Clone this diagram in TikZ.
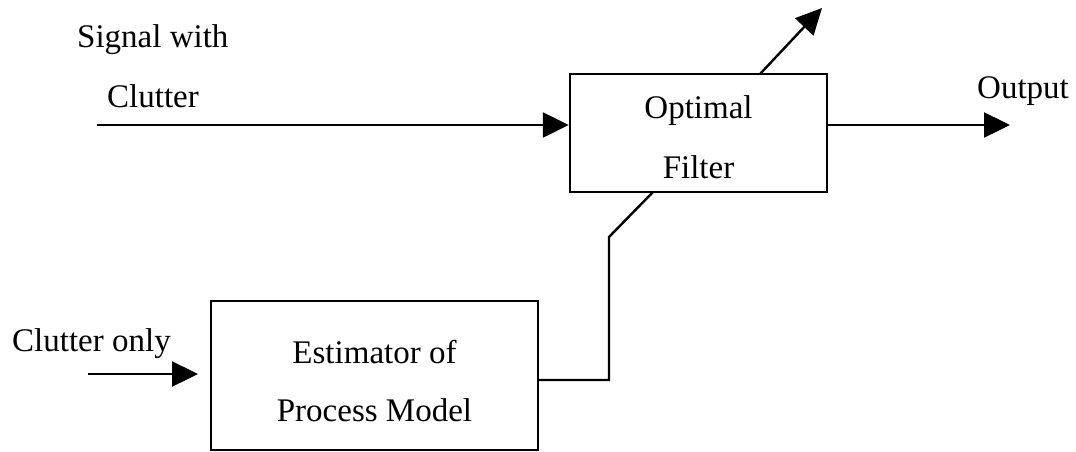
\documentclass[tikz,border=0pt]{standalone}
\usepackage{fontspec}
\setmainfont{Liberation Serif}
\usetikzlibrary{arrows.meta,calc}
\begin{document}
\begin{tikzpicture}[x=1pt,y=-1pt,
  line width=2.4pt,
  blockbox/.style={draw, rectangle, inner sep=0pt},
  lbl/.style={inner sep=0pt, anchor=base, font=\fontsize{33}{40}\selectfont},
  lblw/.style={inner sep=0pt, anchor=base west, font=\fontsize{33}{40}\selectfont},
  flow/.style={-{Triangle[length=26pt,width=25pt]}}]
\useasboundingbox (0,0) rectangle (1076,451);

% blocks
\node[blockbox, minimum width=257pt, minimum height=118pt] (filter) at (698.5,133) {};
\node[blockbox, minimum width=327pt, minimum height=149pt] (est) at (374.5,375.5) {};

% block texts
\node[lbl] (filterA) at (698.5,118) {Optimal};
\node[lbl] (filterB) at (698.5,178) {Filter};
\node[lbl] (estA) at (374.5,363) {Estimator of};
\node[lbl] (estB) at (374.5,421) {Process Model};

% free labels
\node[lblw] (sigA) at (76,47) {Signal with};
\node[lblw] (sigB) at (106,107) {Clutter};
\node[lblw] (clut) at (11,351) {Clutter only};
\node[lblw] (outl) at (976,98) {Output};

% free connector ends
\coordinate (sigin) at (97,125);
\coordinate (outend) at (1010,125);
\coordinate (topstart) at (760,74);
\coordinate (topend) at (822,8);
\coordinate (cin) at (88,374);
\coordinate (cend) at (198,374);
\coordinate (estout) at (538,380);
\coordinate (riser) at (609,380);
\coordinate (knee) at (609,237);
\coordinate (fin) at (653,192);

% connectors
\draw[flow] (sigin) -- (sigin -| filter.west);
\draw[flow] (sigin -| filter.east) -- (outend);
\draw[flow] (topstart) -- (topend);
\draw[flow] (cin) -- (cend);
\draw[line join=miter] (estout) -- (riser) -- (knee) -- (fin);
\end{tikzpicture}
\end{document}
